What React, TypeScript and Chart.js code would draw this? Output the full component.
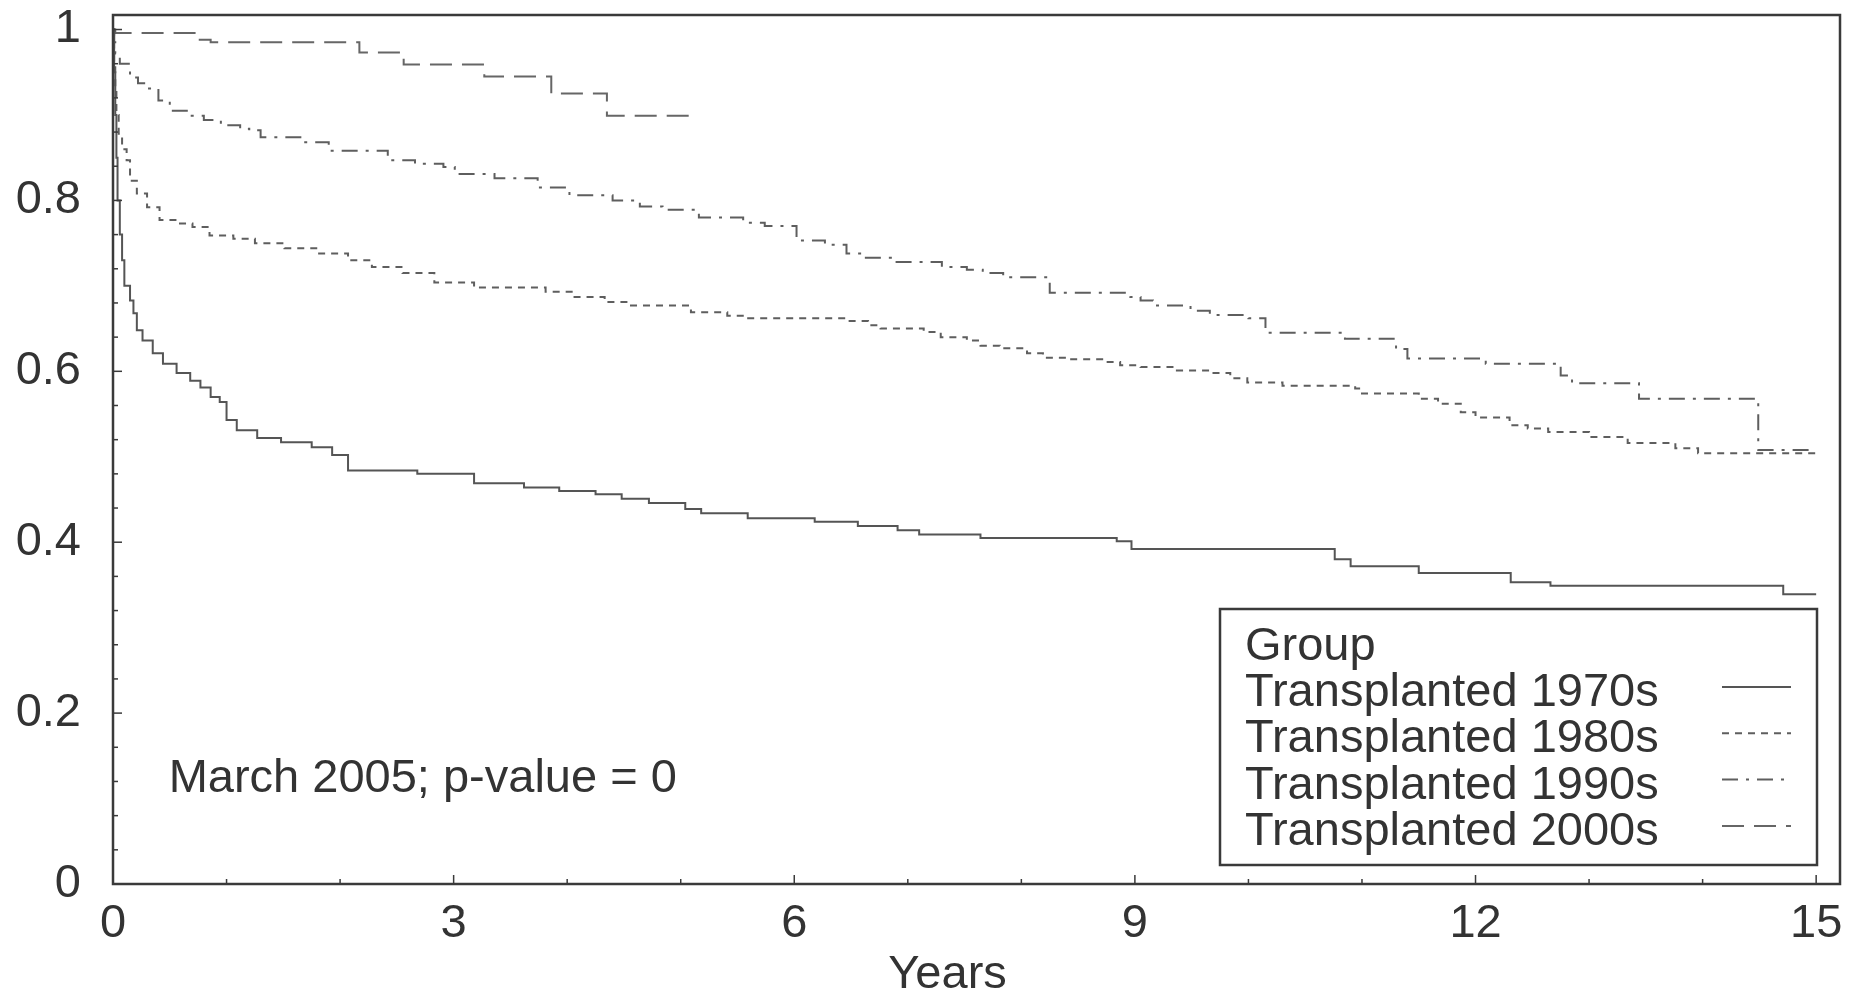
import React, { useEffect, useRef } from 'react';
import { Chart, registerables } from 'chart.js';

Chart.register(...registerables);

// ---------- data ----------
const xTickValues = [0, 3, 6, 9, 12, 15];
const xTickLabels = ['0', '3', '6', '9', '12', '15'];
const yTickValues = [0, 0.2, 0.4, 0.6, 0.8, 1];
const yTickLabels = ['0', '0.2', '0.4', '0.6', '0.8', '1'];
const xAxisMax = 15.21;
const yAxisMax = 1.017;
const xTitle = 'Years';
const legendTitle = 'Group';
const seriesNames = ['Transplanted 1970s', 'Transplanted 1980s', 'Transplanted 1990s', 'Transplanted 2000s'];
const annotationText = 'March 2005; p-value = 0';

const t1970 = [0, 0.01, 0.02, 0.03, 0.04, 0.06, 0.08, 0.1, 0.15, 0.18, 0.21, 0.26, 0.35, 0.44, 0.56, 0.68, 0.77, 0.86, 0.94, 1.0, 1.09, 1.27, 1.48, 1.75, 1.93, 2.07, 2.68, 3.18, 3.62, 3.93, 4.25, 4.48, 4.72, 5.04, 5.18, 5.59, 6.18, 6.56, 6.91, 7.1, 7.64, 8.84, 8.97, 10.76, 10.9, 11.5, 12.31, 12.66, 14.71, 15.0];
const s1970 = [1.0, 0.95, 0.9, 0.85, 0.8, 0.76, 0.73, 0.7, 0.683, 0.668, 0.648, 0.636, 0.621, 0.609, 0.598, 0.589, 0.581, 0.57, 0.564, 0.543, 0.531, 0.522, 0.517, 0.511, 0.502, 0.484, 0.48, 0.469, 0.464, 0.46, 0.456, 0.451, 0.446, 0.439, 0.434, 0.428, 0.424, 0.419, 0.414, 0.409, 0.405, 0.401, 0.392, 0.38, 0.372, 0.364, 0.353, 0.349, 0.339, 0.339];

const t1980 = [0, 0.01, 0.02, 0.03, 0.05, 0.08, 0.12, 0.15, 0.21, 0.3, 0.41, 0.56, 0.7, 0.85, 1.06, 1.25, 1.51, 1.79, 2.07, 2.28, 2.55, 2.83, 3.18, 3.81, 4.05, 4.33, 4.54, 5.09, 5.41, 5.58, 6.45, 6.65, 6.76, 7.14, 7.29, 7.52, 7.64, 7.81, 8.05, 8.19, 8.4, 8.76, 8.87, 9.05, 9.37, 9.66, 9.84, 9.99, 10.3, 10.94, 11.0, 11.5, 11.67, 11.87, 12.0, 12.3, 12.46, 12.64, 13.0, 13.34, 13.76, 13.96, 15.0];
const s1980 = [1.0, 0.96, 0.93, 0.9, 0.878, 0.86, 0.847, 0.823, 0.808, 0.792, 0.777, 0.773, 0.769, 0.759, 0.755, 0.75, 0.744, 0.738, 0.73, 0.722, 0.715, 0.704, 0.698, 0.693, 0.687, 0.681, 0.677, 0.669, 0.665, 0.662, 0.659, 0.654, 0.65, 0.646, 0.64, 0.636, 0.63, 0.627, 0.621, 0.616, 0.614, 0.611, 0.607, 0.605, 0.601, 0.598, 0.592, 0.587, 0.583, 0.58, 0.574, 0.568, 0.562, 0.552, 0.546, 0.537, 0.533, 0.529, 0.523, 0.516, 0.51, 0.504, 0.504];

const t1990 = [0, 0.01, 0.02, 0.06, 0.15, 0.22, 0.3, 0.4, 0.5, 0.65, 0.8, 0.95, 1.12, 1.2, 1.3, 1.65, 1.9, 2.42, 2.66, 2.91, 3.01, 3.36, 3.74, 4.02, 4.4, 4.64, 4.84, 5.16, 5.55, 5.74, 6.02, 6.27, 6.46, 6.61, 6.86, 7.3, 7.52, 7.66, 7.84, 8.25, 8.96, 9.05, 9.16, 9.49, 9.66, 10.0, 10.15, 10.85, 11.3, 11.4, 12.09, 12.75, 12.85, 13.44, 14.49, 15.0];
const s1990 = [1.0, 0.985, 0.972, 0.96, 0.944, 0.937, 0.931, 0.917, 0.905, 0.899, 0.894, 0.888, 0.884, 0.882, 0.874, 0.868, 0.858, 0.847, 0.843, 0.839, 0.831, 0.826, 0.815, 0.806, 0.8, 0.793, 0.789, 0.78, 0.774, 0.77, 0.753, 0.748, 0.738, 0.733, 0.728, 0.722, 0.719, 0.715, 0.71, 0.692, 0.687, 0.683, 0.677, 0.671, 0.666, 0.662, 0.645, 0.638, 0.626, 0.615, 0.609, 0.595, 0.586, 0.568, 0.508, 0.508];

const t2000 = [0, 0.02, 0.74, 0.86, 2.17, 2.56, 3.27, 3.86, 4.35, 5.11];
const s2000 = [1.0, 0.996, 0.988, 0.985, 0.973, 0.959, 0.945, 0.925, 0.899, 0.899];

// ---------- styles ----------
const FONT = '"Liberation Sans", Arial, Helvetica, sans-serif';
const FONT_SIZE = 47;
const TEXT_COLOR = '#333333';
const FRAME_COLOR = '#3a3a3a';
const dashes = [[], [7, 6], [16, 8, 3, 8], [22, 10]];
const lineColors = ['#555555', '#5e5e5e', '#5e5e5e', '#666666'];

const toPoints = (t: number[], s: number[]) => t.map((v, i) => ({ x: v, y: s[i] }));

const decorPlugin = {
  id: 'decor',
  afterDraw(chart: any) {
    const { ctx, chartArea: ca } = chart;
    const xs = chart.scales.x;
    const ys = chart.scales.y;
    ctx.save();

    // tick marks (inward)
    ctx.strokeStyle = FRAME_COLOR;
    ctx.lineWidth = 1.5;
    for (let k = 0; k <= 15; k++) {
      const px = xs.getPixelForValue(k);
      const len = k % 3 === 0 ? 9 : 5;
      ctx.beginPath();
      ctx.moveTo(px, ca.bottom);
      ctx.lineTo(px, ca.bottom - len);
      ctx.stroke();
    }
    for (let k = 0; k <= 25; k++) {
      const py = ys.getPixelForValue(k * 0.04);
      const len = k % 5 === 0 ? 9 : 5;
      ctx.beginPath();
      ctx.moveTo(ca.left, py);
      ctx.lineTo(ca.left + len, py);
      ctx.stroke();
    }

    // frame
    ctx.lineWidth = 2.5;
    ctx.strokeRect(ca.left, ca.top, ca.right - ca.left, ca.bottom - ca.top);

    // texts
    ctx.fillStyle = TEXT_COLOR;
    ctx.font = `${FONT_SIZE}px ${FONT}`;
    ctx.textBaseline = 'alphabetic';
    ctx.textAlign = 'left';
    ctx.fillText(annotationText, xs.getPixelForValue(0.49), ys.getPixelForValue(0.108));

    ctx.textAlign = 'center';
    ctx.fillText(xTitle, xs.getPixelForValue(7.35), 988);

    // legend box
    const bl = ca.right - 620;
    const br = ca.right - 23;
    const bt = ca.bottom - 275;
    const bb = ca.bottom - 19;
    ctx.fillStyle = '#ffffff';
    ctx.fillRect(bl, bt, br - bl, bb - bt);
    ctx.strokeStyle = FRAME_COLOR;
    ctx.lineWidth = 2.5;
    ctx.strokeRect(bl, bt, br - bl, bb - bt);

    ctx.fillStyle = TEXT_COLOR;
    ctx.textAlign = 'left';
    ctx.fillText(legendTitle, bl + 25, bt + 51);
    const ds = chart.data.datasets;
    for (let i = 0; i < ds.length; i++) {
      const base = bt + 97 + i * 46.3;
      ctx.fillStyle = TEXT_COLOR;
      ctx.fillText(ds[i].label, bl + 25, base);
      ctx.strokeStyle = ds[i].borderColor;
      ctx.lineWidth = 2;
      ctx.setLineDash(ds[i].borderDash || []);
      ctx.beginPath();
      const ly = base - 19;
      ctx.moveTo(br - 95, ly);
      ctx.lineTo(br - 26, ly);
      ctx.stroke();
      ctx.setLineDash([]);
    }
    ctx.restore();
  },
};

export default function App() {
  const ref = useRef<HTMLCanvasElement | null>(null);

  useEffect(() => {
    if (!ref.current) return;
    const allT = [t1970, t1980, t1990, t2000];
    const allS = [s1970, s1980, s1990, s2000];
    const chart = new Chart(ref.current, {
      type: 'line',
      data: {
        datasets: seriesNames.map((name, i) => ({
          label: name,
          data: toPoints(allT[i], allS[i]),
          borderColor: lineColors[i],
          backgroundColor: lineColors[i],
          borderWidth: 2,
          borderDash: dashes[i],
          stepped: 'before' as const,
          pointRadius: 0,
          fill: false,
          tension: 0,
        })),
      },
      options: {
        animation: false,
        responsive: false,
        maintainAspectRatio: false,
        layout: { padding: { top: 15, right: 20, left: 0, bottom: 0 } },
        plugins: {
          legend: { display: false },
          tooltip: { enabled: false },
          title: { display: false },
        },
        scales: {
          x: {
            type: 'linear',
            min: 0,
            max: xAxisMax,
            grid: { display: false },
            border: { display: false },
            afterBuildTicks: (scale: any) => {
              scale.ticks = xTickValues.map((v) => ({ value: v }));
            },
            afterFit: (scale: any) => {
              scale.height = 111;
              scale.paddingLeft = 0;
              scale.paddingRight = 0;
            },
            ticks: {
              autoSkip: false,
              maxRotation: 0,
              padding: 4,
              color: TEXT_COLOR,
              font: { family: FONT, size: FONT_SIZE },
              callback: (v: any) => xTickLabels[xTickValues.indexOf(Number(v))] ?? '',
            },
          },
          y: {
            type: 'linear',
            min: 0,
            max: yAxisMax,
            grid: { display: false },
            border: { display: false },
            afterBuildTicks: (scale: any) => {
              scale.ticks = yTickValues.map((v) => ({ value: v }));
            },
            afterFit: (scale: any) => {
              scale.width = 113;
              scale.paddingTop = 0;
              scale.paddingBottom = 0;
            },
            ticks: {
              autoSkip: false,
              padding: 24,
              color: TEXT_COLOR,
              font: { family: FONT, size: FONT_SIZE },
              callback: (v: any) => {
                const idx = yTickValues.findIndex((t) => Math.abs(t - Number(v)) < 1e-6);
                return idx >= 0 ? yTickLabels[idx] : '';
              },
            },
          },
        },
      },
      plugins: [decorPlugin],
    } as any);
    return () => chart.destroy();
  }, []);

  return (
    <div style={{ position: 'absolute', left: 0, top: 0, width: 1860, height: 995, background: '#ffffff' }}>
      <canvas ref={ref} width={1860} height={995} style={{ display: 'block', width: 1860, height: 995 }} />
    </div>
  );
}
